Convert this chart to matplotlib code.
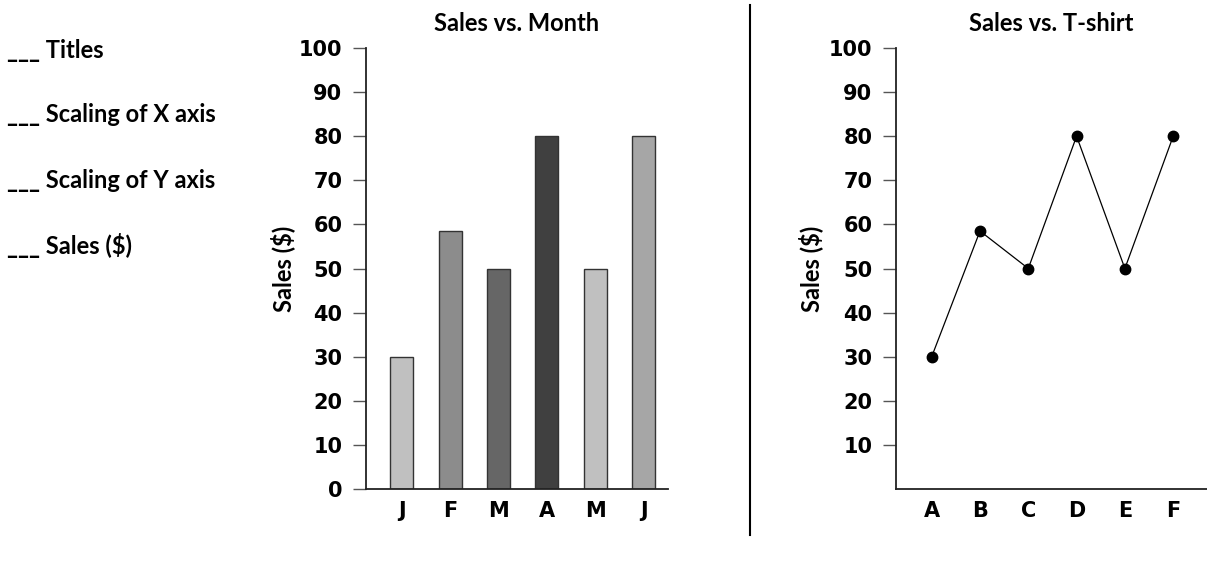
import numpy as np
import matplotlib
matplotlib.use("Agg")
from matplotlib import pyplot as plt
from matplotlib.lines import Line2D

months = ["J", "F", "M", "A", "M", "J"]
month_sales = [30, 58.5, 50, 80, 50, 80]
bar_colors = ["#c0c0c0", "#8c8c8c", "#666666", "#404040", "#c0c0c0", "#a6a6a6"]

shirts = ["A", "B", "C", "D", "E", "F"]
shirt_sales = [30, 58.5, 50, 80, 50, 80]

checklist = ["___ Titles", "___ Scaling of X axis", "___ Scaling of Y axis", "___ Sales ($)"]

TICKFONT = "DejaVu Sans"
LABELFONT = "Lato"

fig = plt.figure(figsize=(12.07, 5.71), dpi=100)

def style(ax, title, yticks):
    ax.spines["top"].set_visible(False)
    ax.spines["right"].set_visible(False)
    for s in ("left", "bottom"):
        ax.spines[s].set_linewidth(1.3)
        ax.spines[s].set_color("#222222")
    ax.set_ylim(0, 100)
    ax.set_yticks(yticks)
    ax.tick_params(axis="y", length=9.5, width=1.0, color="#555555", pad=7.5)
    ax.tick_params(axis="x", length=0, pad=8.5)
    ax.tick_params(labelfontfamily=TICKFONT, labelsize=15)
    for lab in ax.get_xticklabels() + ax.get_yticklabels():
        lab.set_fontweight("bold")
    ax.set_title(title, fontfamily=LABELFONT, fontweight="bold", fontsize=17, pad=12)
    ax.set_ylabel("Sales ($)", fontfamily=LABELFONT, fontweight="bold", fontsize=17)
    ax.yaxis.set_label_coords(-0.235, 0.5)

# bar chart
ax1 = fig.add_axes([0.3032, 0.1436, 0.2502, 0.7723])
x = np.arange(len(months))
ax1.bar(x, month_sales, width=0.475, color=bar_colors, edgecolor="#333333", linewidth=1.0)
ax1.set_xlim(-0.74, 5.5)
ax1.set_xticks(x)
ax1.set_xticklabels(months)
style(ax1, "Sales vs. Month", np.arange(0, 101, 10))

# line chart
ax2 = fig.add_axes([0.7423, 0.1436, 0.2577, 0.7723])
x2 = np.arange(len(shirts))
ax2.plot(x2, shirt_sales, color="black", linewidth=0.9, marker="o", markersize=7.5,
         markerfacecolor="black", clip_on=False)
ax2.set_xlim(-0.74, 5.7)
ax2.set_xticks(x2)
ax2.set_xticklabels(shirts)
style(ax2, "Sales vs. T-shirt", np.arange(10, 101, 10))

# divider
fig.add_artist(Line2D([750 / 1207, 750 / 1207], [1 - 5 / 571, 1 - 535 / 571],
                      transform=fig.transFigure, color="black", linewidth=1.5))

# checklist
for i, t in enumerate(checklist):
    fig.text(7 / 1207, 1 - (50 + 65 * i) / 571, t, fontfamily=LABELFONT,
             fontweight="bold", fontsize=17, va="center", ha="left")

fig.savefig("out.png", dpi=100)
